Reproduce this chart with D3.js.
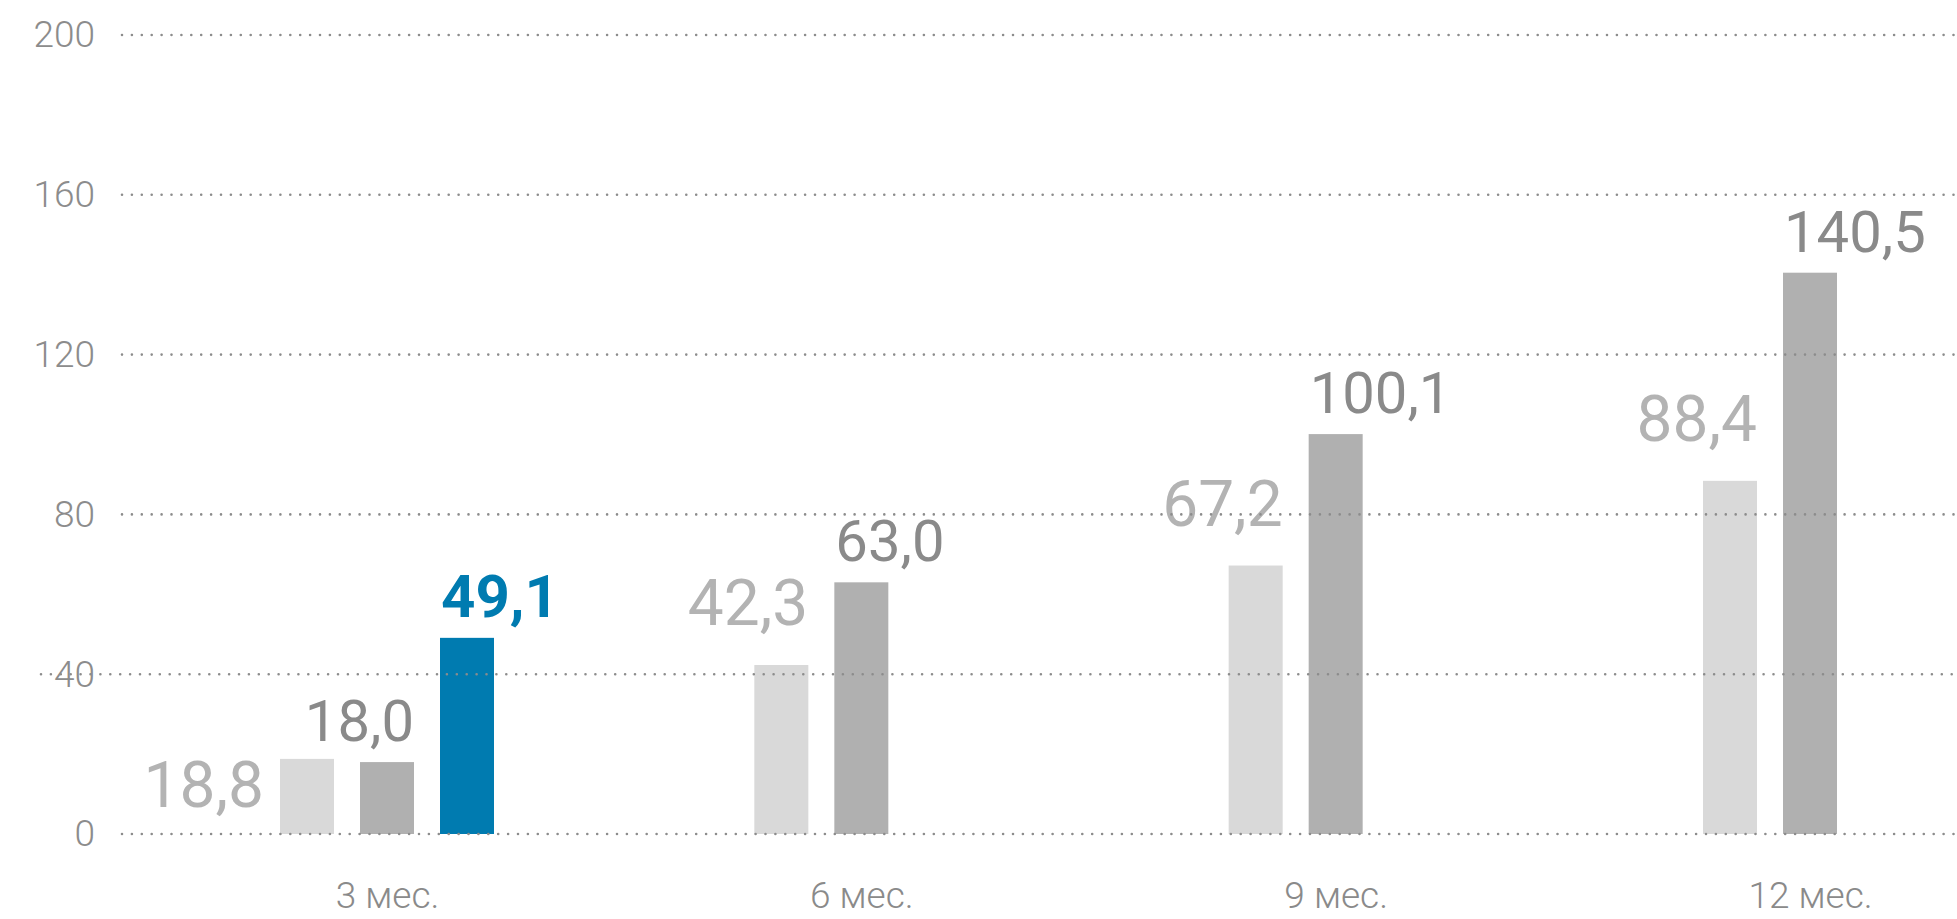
<!DOCTYPE html>
<html>
<head>
<meta charset="utf-8">
<script src="https://cdn.jsdelivr.net/npm/d3@7/dist/d3.min.js"></script>
<style>
  body { margin: 0; background: #fff; }
  svg { display: block; font-family: Roboto, "Liberation Sans", sans-serif; }
</style>
</head>
<body>
<div class="viz"></div>
<script>
// data
const categories = ["3 мес.", "6 мес.", "9 мес.", "12 мес."];
const seriesNames = ["a", "b", "c"];
const valuesA = [18.8, 42.3, 67.2, 88.4];
const valuesB = [18.0, 63.0, 100.1, 140.5];
const valuesC = [49.1, null, null, null];
const yTicks = [0, 40, 80, 120, 160, 200];

const width = 1957, height = 919;
const colors = { a: "#d9d9d9", b: "#b0b0b0", c: "#007bb0" };
const labelColors = { a: "#b3b3b3", b: "#8a8a8a", c: "#007bb0" };

const svg = d3.select(".viz").append("svg")
  .attr("width", width)
  .attr("height", height);

/* scales */
const y = d3.scaleLinear().domain([0, 200]).range([834, 35]);

const x0 = d3.scalePoint()
  .domain(categories)
  .range([387, 1810]);

const x1 = d3.scaleBand()
  .domain(seriesNames)
  .range([-107, 107])
  .paddingInner(0.325);

const bw = x1.bandwidth();

const rows = categories.map((c, i) => ({
  cat: c, i: i,
  bars: [
    { key: "a", value: valuesA[i] },
    { key: "b", value: valuesB[i] },
    { key: "c", value: valuesC[i] }
  ].filter(d => d.value != null)
}));

const fmt = v => d3.format(".1f")(v).replace(".", ",");

/* bars */
const groups = svg.append("g").selectAll("g")
  .data(rows)
  .enter()
  .append("g")
  .attr("transform", d => "translate(" + x0(d.cat) + ",0)");

groups.selectAll("rect")
  .data(d => d.bars)
  .enter()
  .append("rect")
  .attr("x", d => x1(d.key))
  .attr("y", d => y(d.value))
  .attr("width", bw)
  .attr("height", d => y(0) - y(d.value))
  .attr("fill", d => colors[d.key]);

/* dotted grid, drawn over the bars */
const grid = svg.append("g");
grid.selectAll("line")
  .data(yTicks)
  .enter()
  .append("line")
  .attr("x1", d => d === 40 ? 41 : 122)
  .attr("x2", width)
  .attr("y1", d => y(d))
  .attr("y2", d => y(d))
  .attr("stroke", "#8c8c8c")
  .attr("stroke-width", 2.6)
  .attr("stroke-linecap", "round")
  .attr("stroke-dasharray", "0,9.9");

// y axis labels
const yaxis = d3.axisLeft(y).tickValues(yTicks).tickSize(0).tickPadding(0);
svg.append("g")
  .attr("transform", "translate(95,0)")
  .call(yaxis)
  .call(g => g.select(".domain").remove())
  .selectAll("text")
  .attr("fill", "#8c8c8c")
  .style("font-family", "Roboto, sans-serif")
  .style("font-weight", 300)
  .style("font-size", "37px");

// x axis labels
const xaxis = d3.axisBottom(x0).tickSize(0).tickPadding(0);
svg.append("g")
  .attr("transform", "translate(0,882)")
  .call(xaxis)
  .call(g => g.select(".domain").remove())
  .selectAll("text")
  .attr("fill", "#8a8a8a")
  .style("font-family", "Roboto, sans-serif")
  .style("font-weight", 300)
  .style("font-size", "37px");

/* value labels */
groups.selectAll("text.value")
  .data(d => d.bars.map(b => Object.assign({ g: d.i }, b)))
  .enter()
  .append("text")
  .attr("class", "value")
  .attr("fill", d => labelColors[d.key])
  .style("font-size", d => d.key === "a" ? "64px" : (d.key === "c" ? "60px" : "58px"))
  .style("font-weight", d => d.key === "c" ? 700 : 400)
  .attr("text-anchor", d => {
    if (d.key === "a") return "end";
    if (d.key === "b" && d.g === 0) return "end";
    return "start";
  })
  .attr("x", d => {
    if (d.key === "a") return d.g === 0 ? x1(d.key) - 16 : x1(d.key) + bw;
    if (d.key === "b" && d.g === 0) return x1(d.key) + bw;
    return x1(d.key) + 1;
  })
  .attr("y", d => {
    if (d.key === "a") return d.g === 0 ? y(d.value) + 48 : y(d.value) - 40;
    return y(d.value) - 21;
  })
  .text(d => fmt(d.value));
</script>
</body>
</html>
